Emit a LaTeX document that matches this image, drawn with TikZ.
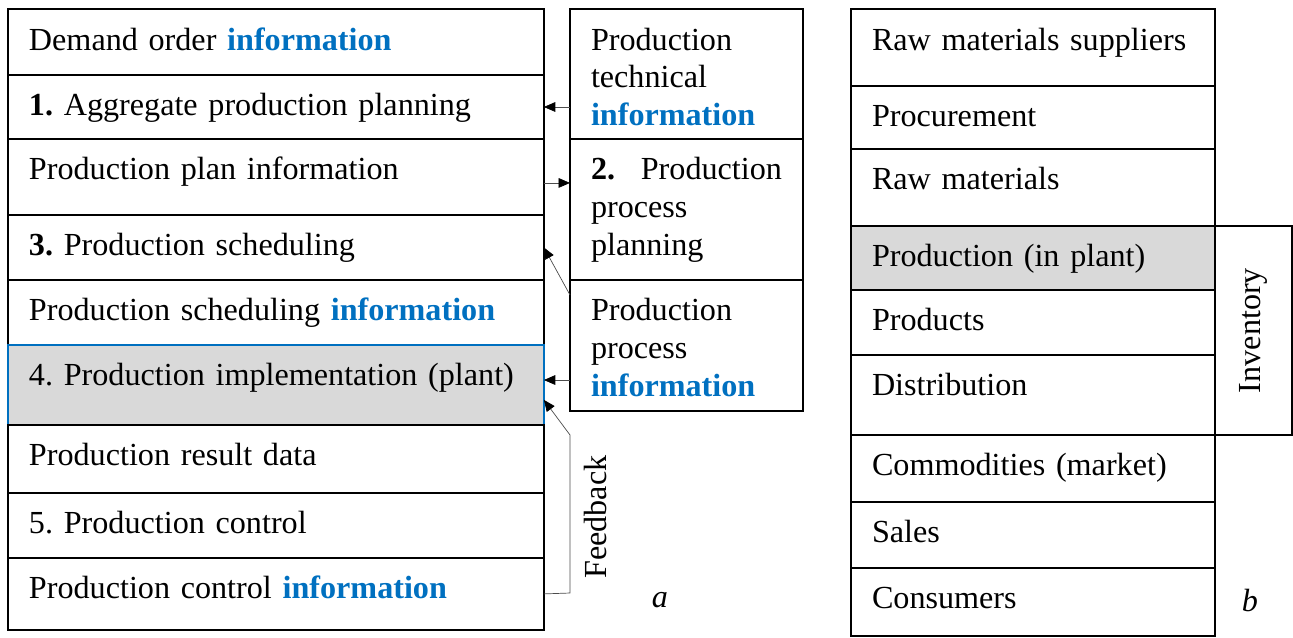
\documentclass[tikz,border=0pt]{standalone}
\usepackage{fontspec}
\setmainfont{Liberation Serif}
\usetikzlibrary{arrows.meta}
\definecolor{infoblue}{RGB}{0,112,192}
\definecolor{rowgray}{RGB}{217,217,217}
\newcommand{\infoword}{\textbf{\textcolor{infoblue}{information}}}
\frenchspacing
\tikzset{
  txt/.style={font=\fontsize{18.3}{21.5}\selectfont},
  cell/.style={txt, draw, line width=0.75pt, anchor=north west, inner xsep=0.42cm,
    inner ysep=0pt, outer sep=0pt, align=left, text height=0.82cm},
  lcell/.style={cell, text width=9.88cm},
  mcell/.style={cell, text width=3.82cm},
  rcell/.style={cell, text width=6.44cm},
  conn/.style={draw=black!70, line width=0.4pt,
    -{Triangle[length=6.5pt,width=5.5pt,color=black]}},
}
\begin{document}
\begin{tikzpicture}[x=0.02cm,y=-0.02cm]
  \useasboundingbox (0,0) rectangle (1293,637);
  % a: production planning levels
  \node[lcell, text depth=0.50cm] (demand) at (8,9) {Demand order \infoword};
  \node[lcell, text depth=0.46cm] (aggr) at (demand.south west) {\textbf{1.} Aggregate production planning};
  \node[lcell, text depth=0.70cm] (plan) at (aggr.south west) {Production plan information};
  \node[lcell, text depth=0.48cm] (sched) at (plan.south west) {\textbf{3.} Production scheduling};
  \node[lcell, text depth=0.48cm] (schedinfo) at (sched.south west) {Production scheduling \infoword};
  \node[lcell, text depth=0.78cm, fill=rowgray, draw=infoblue] (impl) at (schedinfo.south west) {4. Production implementation (plant)};
  \node[lcell, text depth=0.54cm] (result) at (impl.south west) {Production result data};
  \node[lcell, text depth=0.48cm] (ctrl) at (result.south west) {5. Production control};
  \node[lcell, text depth=0.62cm] (ctrlinfo) at (ctrl.south west) {Production control \infoword};

  \node[mcell, text depth=1.78cm] (techinfo) at (570,9) {Production\\technical\\\infoword};
  \node[mcell, text depth=2.00cm] (procplan) at (techinfo.south west) {\textbf{2.}\hfill Production\\process\\planning};
  \node[mcell, text depth=1.80cm] (procinfo) at (procplan.south west) {Production\\process\\\infoword};

  \draw[conn] (aggr.east -| techinfo.west) -- (aggr.east);
  \draw[conn] ([yshift=-3.4pt]plan.east) -- ([yshift=-3.4pt]plan.east -| procplan.west);
  \coordinate (d1) at (570,295);
  \draw[conn] (d1) -- (sched.east);
  \draw[conn] ([yshift=2.8pt]impl.east -| procinfo.west) -- ([yshift=2.8pt]impl.east);
  % feedback loop
  \coordinate (fb1) at (570,593);
  \coordinate (fb2) at (570,435);
  \draw[conn] (ctrlinfo.east) -- (fb1) -- (fb2) -- ([yshift=-8.5pt]impl.east);
  \node[txt, rotate=90] (fbtext) at (595,517) {Feedback};
  \node[txt, font=\fontsize{18.3}{21.5}\selectfont\itshape] (la) at (660,600) {a};

  % b: material flow
  \node[rcell, text depth=0.72cm] (sup) at (851,9) {Raw materials suppliers};
  \node[rcell, text depth=0.44cm] (proc) at (sup.south west) {Procurement};
  \node[rcell, text depth=0.72cm] (raw) at (proc.south west) {Raw materials};
  \node[rcell, text depth=0.46cm, fill=rowgray] (plant) at (raw.south west) {Production (in plant)};
  \node[rcell, text depth=0.48cm] (prod) at (plant.south west) {Products};
  \node[rcell, text depth=0.78cm] (dist) at (prod.south west) {Distribution};
  \node[rcell, text depth=0.52cm] (comm) at (dist.south west) {Commodities (market)};
  \node[rcell, text depth=0.50cm] (sales) at (comm.south west) {Sales};
  \node[rcell, text depth=0.54cm] (cons) at (sales.south west) {Consumers};
  \node[txt, draw, line width=0.75pt, rotate=90, minimum width=4.18cm, minimum height=1.54cm,
    inner sep=0pt, outer sep=0pt] (inv) at (1253.5,330.5) {Inventory};
  \node[txt, font=\fontsize{18.3}{21.5}\selectfont\itshape] (lb) at (1250,600) {b};
\end{tikzpicture}
\end{document}
